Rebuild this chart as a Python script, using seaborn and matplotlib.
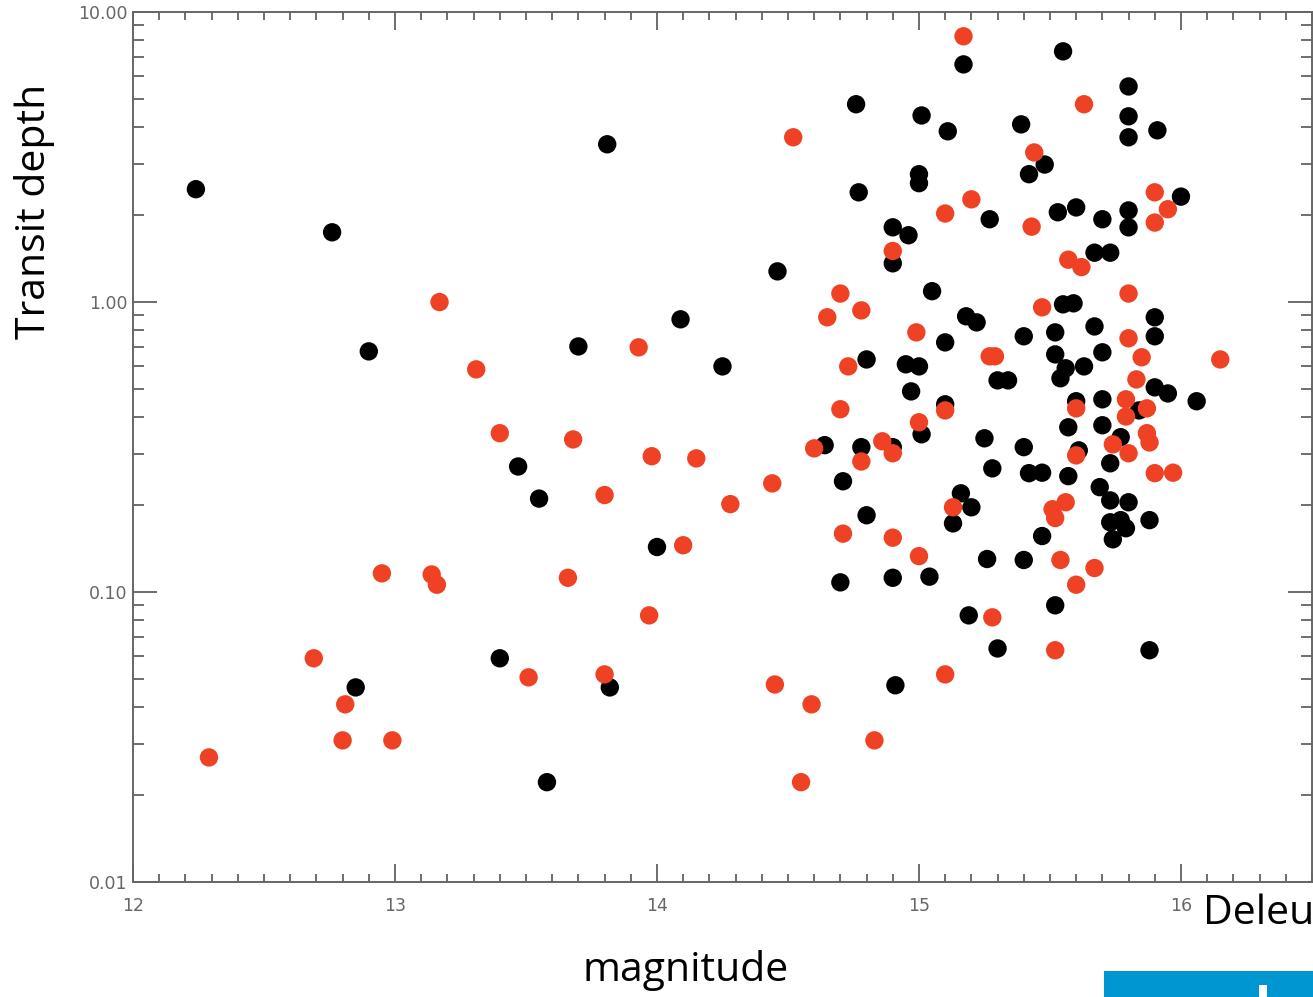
import pandas as pd
import matplotlib.pyplot as plt
import matplotlib.ticker as mticker
from matplotlib.patches import Rectangle
import seaborn as sns

# black points
black_mag = [12.24, 12.76, 12.90, 13.81, 13.70, 14.09, 14.25, 14.46, 13.47, 13.55, 14.00, 13.40, 12.85, 13.82, 13.58,
             15.17, 14.76, 15.01, 15.11, 15.39, 15.00, 15.00, 14.77, 15.27, 14.90, 14.96, 14.90, 15.05, 15.55, 15.80,
             15.80, 15.80, 15.91, 15.48, 15.42, 16.00, 15.53, 15.60, 15.70, 15.80, 15.80, 15.67, 15.73, 15.55, 15.59,
             15.18, 15.22, 15.10, 15.40, 14.80, 14.95, 15.00, 15.30, 15.34, 14.97, 15.10, 15.01, 14.64, 14.78, 14.90,
             15.25, 15.28, 14.71, 15.16, 15.20, 15.13, 14.80, 15.26, 14.70, 14.90, 15.04, 15.19, 15.30, 14.91, 15.52,
             15.88,
             15.90, 15.67, 15.52, 15.90, 15.52, 15.70, 15.56, 15.63, 15.54, 15.90, 15.95, 16.06, 15.60, 15.70, 15.84,
             15.57, 15.70, 15.77, 15.61, 15.40, 15.73, 15.42, 15.47, 15.57, 15.69, 15.73, 15.80, 15.73, 15.77, 15.79,
             15.88, 15.74, 15.47, 15.40]
black_depth = [2.45, 1.74, 0.676, 3.50, 0.703, 0.872, 0.600, 1.276, 0.271, 0.210, 0.143, 0.0591, 0.0469, 0.0469, 0.0221,
               6.60, 4.81, 4.40, 3.88, 4.10, 2.76, 2.57, 2.39, 1.93, 1.81, 1.70, 1.36, 1.09, 7.32, 5.54,
               4.37, 3.70, 3.91, 2.98, 2.76, 2.31, 2.04, 2.12, 1.93, 2.07, 1.81, 1.48, 1.48, 0.982, 0.99,
               0.893, 0.851, 0.726, 0.762, 0.634, 0.610, 0.600, 0.537, 0.537, 0.492, 0.444, 0.350, 0.321, 0.316, 0.316,
               0.339, 0.267, 0.241, 0.219, 0.196, 0.1725, 0.184, 0.130, 0.108, 0.112, 0.113, 0.0831, 0.0639, 0.0477, 0.090,
               0.063,
               0.886, 0.824, 0.786, 0.762, 0.660, 0.671, 0.591, 0.600, 0.546, 0.508, 0.484, 0.455, 0.455, 0.462, 0.423,
               0.370, 0.376, 0.342, 0.308, 0.316, 0.278, 0.257, 0.258, 0.251, 0.230, 0.207, 0.204, 0.174, 0.177, 0.166,
               0.177, 0.152, 0.156, 0.129]

# red points
red_mag = [12.29, 12.69, 12.81, 12.80, 12.99, 12.95, 13.14, 13.16, 13.17, 13.31, 13.40, 13.68, 13.51, 13.66, 13.80,
           13.80, 13.93, 13.98, 13.97, 14.15, 14.10, 14.28, 14.44, 14.52, 14.45, 14.55, 14.59,
           15.17, 15.20, 15.10, 14.90, 14.70, 15.63, 15.44, 15.90, 15.95, 15.90, 15.43, 15.57, 15.62, 15.80, 15.47,
           14.65, 14.78, 14.99, 14.73, 15.27, 15.29, 15.10, 14.70, 15.00, 14.60, 14.86, 14.90, 14.78, 15.13, 14.71,
           14.90, 15.00,
           15.80, 15.85, 16.15, 15.83, 15.60, 15.79, 15.87, 15.79, 15.87, 15.88, 15.74, 15.80, 15.60, 15.90, 15.97,
           15.56, 15.51, 15.52, 15.54, 15.67, 15.60, 15.28, 15.52, 15.10, 14.83]
red_depth = [0.0269, 0.0591, 0.0410, 0.0308, 0.0308, 0.116, 0.115, 0.106, 1.00, 0.586, 0.353, 0.336, 0.0508, 0.112, 0.216,
             0.052, 0.698, 0.294, 0.0831, 0.289, 0.145, 0.201, 0.237, 3.70, 0.048, 0.0221, 0.041,
             8.25, 2.26, 2.02, 1.50, 1.07, 4.81, 3.28, 2.39, 2.09, 1.88, 1.82, 1.40, 1.32, 1.07, 0.959,
             0.886, 0.936, 0.786, 0.600, 0.650, 0.650, 0.423, 0.427, 0.385, 0.313, 0.331, 0.301, 0.282, 0.196, 0.159,
             0.154, 0.133,
             0.750, 0.645, 0.634, 0.541, 0.430, 0.462, 0.430, 0.403, 0.353, 0.328, 0.323, 0.301, 0.296, 0.257, 0.258,
             0.204, 0.193, 0.180, 0.129, 0.121, 0.106, 0.0818, 0.063, 0.052, 0.0308]

x_ticks = [12, 13, 14, 15, 16]
y_ticks = [0.01, 0.10, 1.00, 10.00]

data = pd.DataFrame({
    'mag': black_mag + red_mag,
    'depth': black_depth + red_depth,
    'group': ['black'] * len(black_mag) + ['red'] * len(red_mag),
})

sns.set_style('ticks')
plt.rcParams['font.family'] = ['DejaVu Sans']

fig = plt.figure(figsize=(13.13, 9.97), dpi=100)
ax = fig.add_axes([0.1013, 0.1153, 0.8979, 0.8726])

# black drawn first, red on top
sns.scatterplot(x='mag', y='depth', hue='group', data=data, ax=ax,
                palette={'black': '#000000', 'red': '#EF4224'},
                s=175, linewidth=0, alpha=1, legend=False)

ax.set_yscale('log')
ax.set_xlim(12, 16.5)
ax.set_ylim(0.01, 10)
ax.set_xticks(x_ticks)
ax.set_xticklabels([str(t) for t in x_ticks])
ax.xaxis.set_minor_locator(mticker.MultipleLocator(0.1))
ax.set_yticks(y_ticks)
ax.set_yticklabels(['%.2f' % t for t in y_ticks])
ax.yaxis.set_minor_locator(mticker.LogLocator(base=10, subs=range(2, 10)))
ax.yaxis.set_minor_formatter(mticker.NullFormatter())
ax.set_xlabel('')
ax.set_ylabel('')

for sp in ax.spines.values():
    sp.set_color('#666666')
    sp.set_linewidth(1.4)

ax.tick_params(axis='both', which='both', direction='in', top=True, right=True,
               color='#555555', labelcolor='#666666', labelsize=12.5)
ax.tick_params(axis='y', which='major', length=17, width=1.2, pad=4)
ax.tick_params(axis='y', which='minor', length=8, width=1.2)
ax.tick_params(axis='x', which='major', length=13, width=1.2, pad=11)
ax.tick_params(axis='x', which='minor', length=6, width=1.2)

fig.text(35 / 1313, 1 - 211 / 997, 'Transit depth', rotation=90, ha='center', va='center',
         fontsize=29.5, family='Open Sans', color='black')
fig.text(686 / 1313, 1 - 970 / 997, 'magnitude', ha='center', va='center',
         fontsize=29.5, family='Open Sans', color='black')
fig.text(1203 / 1313, 1 - 924 / 997, 'Deleu', ha='left', va='baseline',
         fontsize=29.5, family='Open Sans', color='black')

fig.patches.append(Rectangle((1104 / 1313, 0), 209 / 1313, 26 / 997, transform=fig.transFigure,
                             facecolor='#0096D1', edgecolor='none'))
fig.patches.append(Rectangle((1259 / 1313, 0), 8 / 1313, 12 / 997, transform=fig.transFigure,
                             facecolor='white', edgecolor='none'))

fig.savefig('out.png', dpi=100)
